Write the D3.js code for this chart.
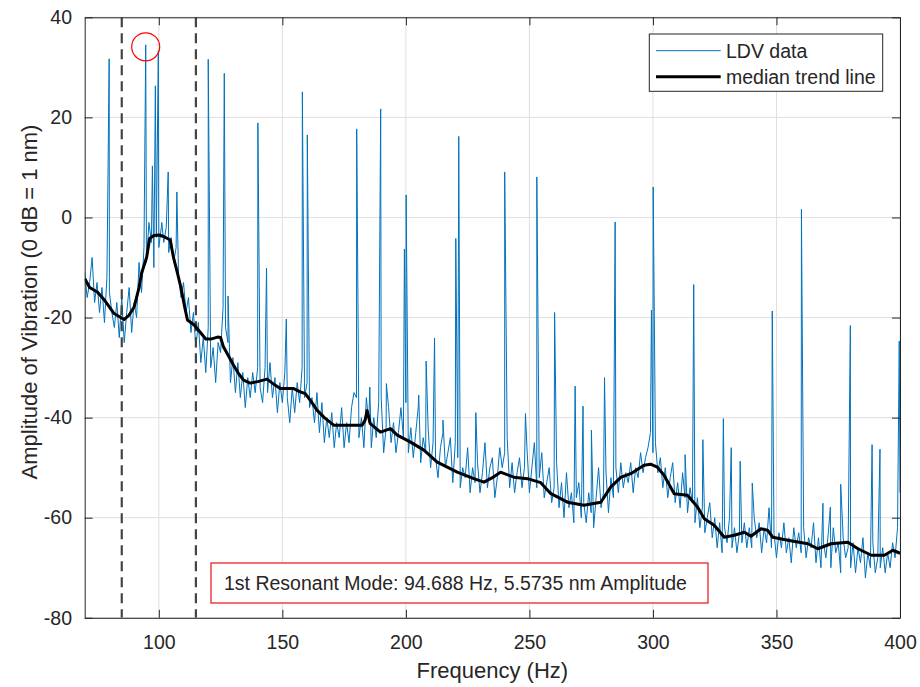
<!DOCTYPE html>
<html>
<head>
<meta charset="utf-8">
<script src="https://cdn.jsdelivr.net/npm/d3@7"></script>
<style>
  body { margin: 0; background: #fff; }
  text { font-family: "Liberation Sans", Arial, Helvetica, sans-serif; fill: #262626; }
</style>
</head>
<body>
<svg id="chart" width="920" height="687"></svg>
<script>
// spectrum floor, one value per 1 Hz bin from 70 to 400 Hz
var floorStart = 70;
var floorDb = [
  -11, -16, -13, -8, -17, -13, -19, -14, -21, -12,
  -15, -19, -22, -17, -24, -16, -25, -19, -14, -23,
  -17, -20, -9, -15, -6, -9, -1, -5, -10, -4,
  -6, -2, -5, -2, -7, -4, -9, -6, -12, -16,
  -13, -19, -16, -23, -19, -26, -21, -29, -24, -31,
  -22, -30, -26, -33, -25, -27, -18, -22, -25, -33,
  -28, -35, -29, -36, -31, -38, -32, -36, -31, -35,
  -30, -34, -37, -30, -35, -29, -36, -32, -39, -33,
  -37, -31, -36, -41, -34, -39, -33, -37, -30, -36,
  -33, -38, -36, -41, -35, -43, -37, -45, -40, -44,
  -39, -46, -41, -44, -38, -46, -41, -45, -38, -35,
  -36, -44, -40, -46, -36, -41, -46, -40, -44, -37,
  -36, -47, -42, -38, -45, -41, -47, -43, -38, -44,
  -37, -47, -42, -48, -43, -38, -49, -44, -47, -42,
  -50, -45, -48, -52, -46, -43, -50, -47, -44, -53,
  -45, -48, -54, -50, -52, -46, -55, -50, -53, -49,
  -55, -51, -45, -54, -50, -48, -56, -52, -46, -50,
  -47, -44, -54, -49, -55, -51, -48, -54, -50, -46,
  -55, -50, -45, -54, -52, -47, -56, -53, -50, -57,
  -54, -49, -58, -53, -60, -51, -58, -55, -61, -56,
  -53, -60, -57, -61, -55, -59, -62, -56, -50, -58,
  -55, -51, -59, -52, -56, -50, -55, -49, -54, -51,
  -53, -49, -55, -50, -52, -47, -51, -48, -46, -43,
  -47, -45, -51, -48, -54, -50, -56, -52, -49, -57,
  -53, -58, -51, -56, -59, -54, -57, -61, -56, -62,
  -58, -63, -60, -57, -64, -60, -66, -61, -67, -62,
  -65, -60, -66, -62, -67, -63, -65, -61, -66, -62,
  -66, -60, -64, -61, -67, -62, -65, -58, -66, -63,
  -68, -63, -66, -61, -67, -64, -69, -62, -66, -63,
  -67, -62, -68, -64, -66, -61, -69, -64, -70, -65,
  -68, -63, -70, -62, -67, -65, -71, -64, -68, -66,
  -70, -65, -71, -66, -69, -64, -72, -67, -70, -65,
  -71, -68, -70, -66, -71, -67, -70, -65, -68, -62,
  -55
];

// narrow spectral lines sitting on the floor
var peakHz = [79.9, 94.7, 97.4, 98.6, 99.8, 101.2, 103.8, 107.3, 120.0, 126.5,
  128.0, 140.1, 143.6, 151.6, 158.1, 160.1, 180.1, 185.4, 189.8, 192.1,
  199.4, 200.1, 205.2, 208.2, 211.6, 215.0, 220.2, 221.4, 228.3, 240.0,
  248.4, 253.0, 260.2, 268.5, 271.7, 275.1, 280.4, 284.7, 299.4, 300.1,
  313.0, 316.5, 320.2, 328.5, 331.7, 335.3, 340.2, 348.3, 360.1, 368.8,
  371.8, 376.0, 379.9, 388.7, 391.9, 399.7];
var peakDb = [31.7, 34.5, 10.3, 26.3, 33.3, -1, 9.1, 5.1, 31.6, 28.8,
  -15.7, 18.9, -10.1, -20.3, 25.1, 16.5, 17.7, -33.9, 21.7, -33.2,
  -6.3, 4.5, -35.5, -28.7, -24.1, -40.5, -4.2, 16.2, -39, 9.1,
  -39.2, 8.1, -19, -33.7, -37.7, -42.5, -32, -0.9, -18.5, 6.1,
  -47.4, -13.4, -44.4, -40.2, -46, -48.7, -53.1, -18.7, 1.6, -57.1,
  -57.9, -53.3, -21.6, -45.4, -46.3, -24.7];

// median trend line
var trendHz = [70, 72, 75.1, 78, 81.9, 85.9, 88, 90, 92, 93, 95.1, 96.3, 98, 100.1, 102,
  104.6, 105.9, 107.5, 108.9, 110.5, 111.6, 114.3, 116, 119, 121, 123.8, 125, 126.2, 128,
  130.2, 132, 134.3, 137, 140, 143.8, 147, 149.2, 154.6, 157, 159.3, 162, 164, 167, 170.8,
  177.5, 182.3, 183.5, 184.3, 185.6, 189.7, 193.8, 196.5, 201.9, 207.3, 212.7, 220.8, 227.5,
  231.6, 235, 238.3, 243.7, 249.2, 254.6, 258.7, 265.4, 272.1, 278.9, 282.9, 287.1, 291,
  296.4, 299, 301.8, 304.5, 308.6, 314, 318.1, 320.8, 324.8, 328.9, 332.9, 337, 339.7,
  343.7, 346.4, 348.5, 354.6, 362.7, 366.7, 372.1, 378.9, 383, 388.4, 393.7, 397.1, 400];
var trendDb = [-12.2, -14, -14.9, -16.5, -19.2, -20.4, -19.5, -17.9, -14, -11.2, -7.9, -4.2, -3.6, -3.5, -3.8,
  -4.5, -7.9, -11, -13.9, -18, -20.5, -21.5, -22.5, -24.3, -24.3, -23.9, -24, -25.9, -27.5,
  -29.5, -31, -32.5, -33.1, -32.8, -32.3, -33.5, -34.2, -34.2, -34.8, -35.2, -37, -38.5, -40, -41.5,
  -41.5, -41.5, -40.5, -38.6, -41.2, -42.9, -42.2, -43.5, -44.9, -46.5, -48.9, -50.9, -52.2,
  -52.9, -52, -50.9, -51.9, -52.2, -53, -55.2, -56.9, -57.5, -56.9, -53.9, -51.9, -51.2,
  -49.5, -49.3, -49.9, -51.5, -55.2, -55.5, -57.9, -60.2, -61.5, -63.9, -63.5, -62.9, -63.7,
  -62.2, -62.5, -63.9, -64.5, -65.2, -66.2, -65.2, -64.9, -66.2, -67.5, -67.5, -66.5, -67.1];

var xTicks = [100, 150, 200, 250, 300, 350, 400];
var yTicks = [-80, -60, -40, -20, 0, 20, 40];
var bandHz = [85, 115];
var resonance = { hz: 94.688, db: 34.1 };
var noteText = "1st Resonant Mode: 94.688 Hz, 5.5735 nm Amplitude";

var plotL = 84.7, plotR = 900, plotT = 17.3, plotB = 617.8;
var fs = 19.5;

var svg = d3.select('#chart');
svg.append('rect').attr('width', 920).attr('height', 687).attr('fill', '#fff');

var x = d3.scaleLinear().domain([70, 400]).range([plotL, plotR]);
var y = d3.scaleLinear().domain([-80, 40]).range([plotB, plotT]);

// grid
var grid = svg.append('g').attr('stroke', '#dfdfdf').attr('stroke-width', 1);
grid.selectAll('.gx').data(xTicks).enter().append('line')
  .attr('x1', d => x(d)).attr('x2', d => x(d)).attr('y1', plotT).attr('y2', plotB);
grid.selectAll('.gy').data(yTicks).enter().append('line')
  .attr('y1', d => y(d)).attr('y2', d => y(d)).attr('x1', plotL).attr('x2', plotR);

svg.append('clipPath').attr('id', 'plotclip').append('rect')
  .attr('x', plotL).attr('y', plotT).attr('width', plotR - plotL).attr('height', plotB - plotT);

// merge floor bins and line peaks into one sorted spectrum
var ldv = floorDb.map((v, i) => ({ hz: floorStart + i, db: v }))
  .concat(peakHz.map((h, i) => ({ hz: h, db: peakDb[i] })))
  .sort((a, b) => a.hz - b.hz);
var trend = trendHz.map((h, i) => ({ hz: h, db: trendDb[i] }));

var line = d3.line().x(d => x(d.hz)).y(d => y(d.db));
var plot = svg.append('g').attr('clip-path', 'url(#plotclip)');

plot.append('path').datum(ldv)
  .attr('d', line).attr('fill', 'none')
  .attr('stroke', '#0072BD').attr('stroke-width', 1).attr('stroke-linejoin', 'round');

plot.selectAll('.band').data(bandHz).enter().append('line')
  .attr('x1', d => x(d)).attr('x2', d => x(d)).attr('y1', plotT).attr('y2', plotB)
  .attr('stroke', '#444').attr('stroke-width', 2.2).attr('stroke-dasharray', '10,6');

plot.append('path').datum(trend)
  .attr('d', line).attr('fill', 'none')
  .attr('stroke', '#000').attr('stroke-width', 3).attr('stroke-linejoin', 'round');

// axes, MATLAB style with ticks inside and box on
function styleAxis(g) {
  g.select('.domain').attr('stroke', '#262626').attr('stroke-width', 1);
  g.selectAll('.tick line').attr('stroke', '#262626');
  g.selectAll('.tick text').attr('fill', '#262626').style('font-size', fs + 'px')
    .style('font-family', '"Liberation Sans", Arial, Helvetica, sans-serif');
}
svg.append('g').attr('transform', 'translate(0,' + plotB + ')')
  .call(d3.axisBottom(x).tickValues(xTicks).tickSizeInner(-8).tickSizeOuter(0)
    .tickPadding(31.5 - 0.71 * fs).tickFormat(d => String(d)))
  .call(styleAxis);
svg.append('g').attr('transform', 'translate(0,' + plotT + ')')
  .call(d3.axisTop(x).tickValues(xTicks).tickSizeInner(-8).tickSizeOuter(0).tickFormat(''))
  .call(styleAxis);
svg.append('g').attr('transform', 'translate(' + plotL + ',0)')
  .call(d3.axisLeft(y).tickValues(yTicks).tickSizeInner(-8).tickSizeOuter(0)
    .tickPadding(12.7).tickFormat(d => String(d)))
  .call(styleAxis);
svg.append('g').attr('transform', 'translate(' + plotR + ',0)')
  .call(d3.axisRight(y).tickValues(yTicks).tickSizeInner(-8).tickSizeOuter(0).tickFormat(''))
  .call(styleAxis);

// axis labels
svg.append('text').attr('x', (plotL + plotR) / 2).attr('y', 678.3)
  .attr('text-anchor', 'middle').style('font-size', '22px').text('Frequency (Hz)');
svg.append('text').attr('transform', 'translate(37.3,302) rotate(-90)')
  .attr('text-anchor', 'middle').style('font-size', '22px').text('Amplitude of Vibration (0 dB = 1 nm)');

// resonance marker
svg.append('circle').attr('cx', x(resonance.hz)).attr('cy', y(resonance.db)).attr('r', 14)
  .attr('fill', 'none').attr('stroke', '#ff0000').attr('stroke-width', 1.2);

// annotation box
svg.append('rect').attr('x', 211).attr('y', 563).attr('width', 497).attr('height', 40)
  .attr('fill', '#fff').attr('stroke', '#ee2222').attr('stroke-width', 1.3);
svg.append('text').attr('x', 224).attr('y', 589.5).style('font-size', fs + 'px').text(noteText);

// legend
var lg = svg.append('g');
lg.append('rect').attr('x', 649.3).attr('y', 34).attr('width', 233.4).attr('height', 57.3)
  .attr('fill', '#fff').attr('stroke', '#262626').attr('stroke-width', 1);
lg.append('line').attr('x1', 656).attr('x2', 720.7).attr('y1', 50.7).attr('y2', 50.7)
  .attr('stroke', '#0072BD').attr('stroke-width', 1);
lg.append('line').attr('x1', 656).attr('x2', 720.7).attr('y1', 76.7).attr('y2', 76.7)
  .attr('stroke', '#000').attr('stroke-width', 3);
lg.append('text').attr('x', 726).attr('y', 58.3).style('font-size', fs + 'px').text('LDV data');
lg.append('text').attr('x', 726).attr('y', 84.3).style('font-size', fs + 'px').text('median trend line');
</script>
</body>
</html>
